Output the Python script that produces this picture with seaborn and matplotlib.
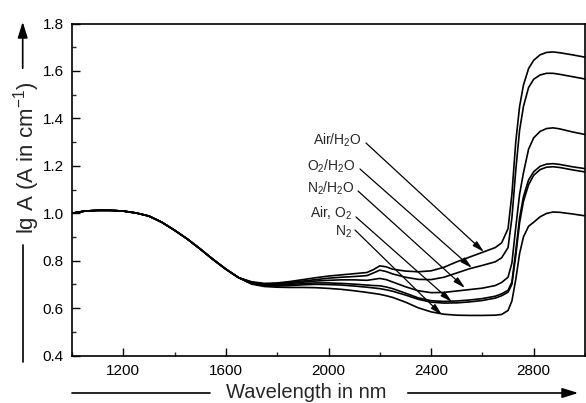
import matplotlib
matplotlib.use("Agg")
import matplotlib.pyplot as plt
from matplotlib.lines import Line2D
from matplotlib.ticker import MultipleLocator
import seaborn as sns
import pandas as pd

# ---------------- data ----------------
wl_common = [1000, 1050, 1100, 1150, 1200, 1250, 1300, 1350, 1400, 1450,
             1500, 1550, 1600, 1650]
wl_split = [1700, 1750, 1800, 1850, 1900, 1950, 2000, 2050, 2100, 2150,
            2175, 2200, 2225, 2250, 2300, 2350, 2400, 2450, 2500, 2550,
            2600, 2650, 2675, 2700, 2715, 2730, 2745, 2760, 2780, 2800,
            2825, 2850, 2875, 2900, 2950, 3000]
wavelength = wl_common + wl_split

lgA_common = [1.000, 1.009, 1.012, 1.012, 1.009, 1.001, 0.988, 0.962, 0.928,
              0.891, 0.849, 0.805, 0.764, 0.728]

air_h2o = [0.711, 0.704, 0.706, 0.712, 0.720, 0.728, 0.735, 0.740, 0.745, 0.750,
           0.762, 0.778, 0.774, 0.764, 0.756, 0.753, 0.757, 0.772, 0.795, 0.815,
           0.835, 0.855, 0.875, 0.935, 1.08, 1.30, 1.45, 1.54, 1.61, 1.645,
           1.668, 1.678, 1.680, 1.677, 1.668, 1.658]
o2_h2o = [0.709, 0.701, 0.703, 0.708, 0.714, 0.720, 0.726, 0.730, 0.733, 0.737,
          0.748, 0.760, 0.754, 0.744, 0.730, 0.721, 0.720, 0.730, 0.748, 0.766,
          0.780, 0.795, 0.812, 0.855, 0.98, 1.18, 1.35, 1.45, 1.53, 1.565,
          1.583, 1.590, 1.590, 1.586, 1.576, 1.566]
n2_h2o = [0.707, 0.699, 0.700, 0.704, 0.709, 0.714, 0.717, 0.719, 0.719, 0.717,
          0.721, 0.725, 0.720, 0.710, 0.690, 0.673, 0.665, 0.666, 0.672, 0.678,
          0.684, 0.695, 0.708, 0.730, 0.79, 0.94, 1.08, 1.17, 1.27, 1.318,
          1.345, 1.357, 1.360, 1.356, 1.343, 1.332]
air = [0.705, 0.696, 0.696, 0.699, 0.703, 0.706, 0.706, 0.704, 0.701, 0.697,
       0.695, 0.694, 0.689, 0.682, 0.663, 0.643, 0.631, 0.628, 0.630, 0.634,
       0.640, 0.650, 0.660, 0.675, 0.71, 0.84, 0.98, 1.07, 1.14, 1.175,
       1.198, 1.207, 1.209, 1.206, 1.196, 1.188]
o2 = [0.703, 0.694, 0.693, 0.695, 0.698, 0.700, 0.699, 0.697, 0.693, 0.688,
      0.685, 0.682, 0.677, 0.671, 0.655, 0.637, 0.625, 0.621, 0.622, 0.626,
      0.632, 0.642, 0.652, 0.667, 0.70, 0.82, 0.96, 1.05, 1.12, 1.160,
      1.184, 1.194, 1.196, 1.193, 1.183, 1.174]
n2 = [0.701, 0.691, 0.688, 0.687, 0.687, 0.686, 0.683, 0.679, 0.673, 0.666,
      0.662, 0.658, 0.652, 0.645, 0.625, 0.601, 0.584, 0.574, 0.570, 0.569,
      0.569, 0.570, 0.573, 0.590, 0.63, 0.72, 0.83, 0.90, 0.945, 0.962,
      0.985, 0.999, 1.005, 1.004, 0.997, 0.989]

series_names = ["Air/H2O", "O2/H2O", "N2/H2O", "Air", "O2", "N2"]
series_values = [air_h2o, o2_h2o, n2_h2o, air, o2, n2]

label_texts = ["Air/H$_2$O", "O$_2$/H$_2$O", "N$_2$/H$_2$O", "Air, O$_2$", "N$_2$"]

x_ticks = [1200, 1600, 2000, 2400, 2800]
y_ticks = [0.4, 0.6, 0.8, 1.0, 1.2, 1.4, 1.6, 1.8]

# ---------------- build long table ----------------
rows = []
for name, vals in zip(series_names, series_values):
    for w, v in zip(wavelength, lgA_common + vals):
        rows.append({"wavelength": w, "lgA": v, "sample": name})
df = pd.DataFrame(rows)

# ---------------- style ----------------
sns.set_style("ticks")
plt.rcParams["font.family"] = ["Liberation Sans", "DejaVu Sans"]
plt.rcParams["mathtext.fontset"] = "custom"
plt.rcParams["mathtext.rm"] = "Liberation Sans"
plt.rcParams["mathtext.it"] = "Liberation Sans:italic"
plt.rcParams["mathtext.bf"] = "Liberation Sans:bold"

W, H = 586, 403
fig = plt.figure(figsize=(W / 100, H / 100), dpi=100)
ax = fig.add_axes([72 / W, 1 - 355.5 / H, (585 - 72) / W, (355.5 - 23.5) / H])

sns.lineplot(data=df, x="wavelength", y="lgA", hue="sample",
             palette=["black"] * len(series_names), linewidth=1.2,
             legend=False, ax=ax, sort=True, estimator=None)

ax.set_xlim(1000, 3000)
ax.set_ylim(0.4, 1.8)
ax.set_xticks(x_ticks)
ax.set_yticks(y_ticks)
ax.set_yticklabels([f"{t:.1f}" for t in y_ticks])
ax.xaxis.set_minor_locator(MultipleLocator(200))
ax.yaxis.set_minor_locator(MultipleLocator(0.1))
ax.tick_params(which="major", direction="in", length=5.5, width=1.0,
               labelsize=11, pad=6, colors="black")
ax.tick_params(which="minor", direction="in", length=3, width=1.0)
ax.tick_params(top=False, right=False, which="both")
for sp in ax.spines.values():
    sp.set_visible(True)
    sp.set_linewidth(1.2)
    sp.set_color("black")
ax.set_xlabel("")
ax.set_ylabel("")

# ---------------- annotations with arrows ----------------
def px(x, y):
    return (x / W, 1 - y / H)

label_pos = [(362, 140), (356, 166), (355, 188), (352, 213), (352, 232)]
arrow_start = [(366, 143), (360, 169), (358, 191), (356, 217), (355, 230)]
arrow_end = [(484, 252), (472, 268), (465, 288), (452, 302), (442, 315)]
for txt, lp, s, e in zip(label_texts, label_pos, arrow_start, arrow_end):
    fig.text(*px(*lp), txt, ha="right", va="center", fontsize=10)
    ax.annotate("", xy=px(*e), xytext=px(*s), xycoords="figure fraction",
                textcoords="figure fraction",
                arrowprops=dict(arrowstyle="-|>,head_length=0.7,head_width=0.18",
                                color="black", lw=0.9, shrinkA=0, shrinkB=0))

# ---------------- axis labels with arrow lines ----------------
fig.text(306.5 / W, 1 - 398.5 / H, "Wavelength in nm", ha="center",
         va="baseline", fontsize=14.5)
fig.add_artist(Line2D([72 / W, 210 / W], [1 - 393 / H] * 2,
                      transform=fig.transFigure, color="black", lw=1.2))
fig.patches.append(matplotlib.patches.FancyArrowPatch(
    px(405, 393), px(581, 393), transform=fig.transFigure,
    arrowstyle="-|>,head_length=0.8,head_width=0.25", color="black",
    lw=1.2, mutation_scale=12))

fig.text(33 / W, 1 - 157.5 / H, "lg A (A in cm$^{-1}$)", rotation=90,
         rotation_mode="anchor", ha="center", va="baseline", fontsize=16)
fig.add_artist(Line2D([22.7 / W] * 2, [1 - 362 / H, 1 - 245 / H],
                      transform=fig.transFigure, color="black", lw=1.2))
fig.patches.append(matplotlib.patches.FancyArrowPatch(
    px(22.7, 71), px(22.7, 19), transform=fig.transFigure,
    arrowstyle="-|>,head_length=0.8,head_width=0.25", color="black",
    lw=1.2, mutation_scale=12))

fig.savefig("out.png", dpi=100)
